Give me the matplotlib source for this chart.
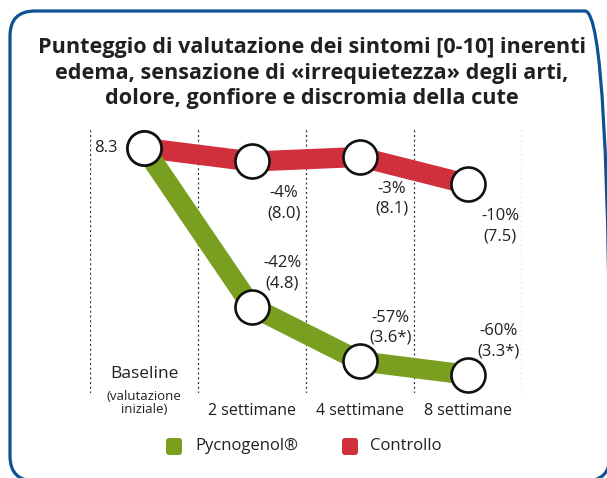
import matplotlib
matplotlib.use("Agg")
import matplotlib.pyplot as plt
from matplotlib.patches import FancyBboxPatch
from matplotlib.transforms import IdentityTransform

# data
categories = ["Baseline", "2 settimane", "4 settimane", "8 settimane"]
pycnogenol = [8.3, 4.8, 3.6, 3.3]
controllo = [8.3, 8.0, 8.1, 7.5]
pyc_labels = ["", "-42%\n(4.8)", "-57%\n(3.6*)", "-60%\n(3.3*)"]
ctrl_labels = ["", "-4%\n(8.0)", "-3%\n(8.1)", "-10%\n(7.5)"]

GREEN = "#789f1f"
RED = "#d22f3d"
BLUE = "#0b5394"
TXT = "#231f20"
W, H = 607, 478

plt.rcParams["font.family"] = ["Open Sans", "DejaVu Sans"]

fig = plt.figure(figsize=(W / 100, H / 100), dpi=100)
fig.patch.set_facecolor("white")

# rounded frame, pixel coords (origin bottom-left)
frame = FancyBboxPatch((10, H - 481), 600, 470,
                       boxstyle="round,pad=0,rounding_size=25",
                       transform=IdentityTransform(), fc="none", ec=BLUE, lw=2.3)
fig.patches.append(frame)

fig.text(312 / W, 1 - 73 / H,
         "Punteggio di valutazione dei sintomi [0-10] inerenti\n"
         "edema, sensazione di «irrequietezza» degli arti,\n"
         "dolore, gonfiore e discromia della cute",
         ha="center", va="center", fontsize=15.6, fontweight="bold",
         color=TXT, linespacing=1.3)

ax = fig.add_axes([90 / W, 1 - 393 / H, 432 / W, 266 / H])
ax.set_xlim(-0.5, 3.5)
ax.set_ylim(2.9, 8.76)
ax.axis("off")

for xv in [-0.5, 0.5, 1.5, 2.5, 3.5]:
    ax.axvline(xv, color="#333333", lw=0.9, ls=(0, (1.6, 2.2)), zorder=1)

x = list(range(len(categories)))
ax.plot(x, controllo, color=RED, lw=14.5, solid_joinstyle="round", zorder=2, clip_on=False)
ax.plot(x, pycnogenol, color=GREEN, lw=14.5, solid_joinstyle="round", zorder=3, clip_on=False)
ax.plot(x, controllo, ls="none", marker="o", ms=24.5, mfc="white", mec="#111111", mew=1.9,
        zorder=4, clip_on=False)
ax.plot(x, pycnogenol, ls="none", marker="o", ms=24.5, mfc="white", mec="#111111", mew=1.9,
        zorder=4, clip_on=False)

fs = 12
ax.annotate(f"{pycnogenol[0]:.1f}", (0, pycnogenol[0]), xytext=(-19, 0),
            textcoords="offset points", ha="right", va="center", fontsize=fs, color=TXT)
for i in range(1, 4):
    ax.annotate(ctrl_labels[i], (i, controllo[i]), xytext=(23, -17),
                textcoords="offset points", ha="center", va="top", fontsize=fs,
                color=TXT, linespacing=1.35)
    ax.annotate(pyc_labels[i], (i, pycnogenol[i]), xytext=(22, 11),
                textcoords="offset points", ha="center", va="bottom", fontsize=fs,
                color=TXT, linespacing=1.35)

# category labels
trans = ax.get_xaxis_transform()
ax.text(0, 1 - (374 - 127) / 266, categories[0], transform=trans, ha="center",
        va="center", fontsize=12.5, color=TXT)
ax.text(0, 1 - (403 - 127) / 266, "(valutazione\niniziale)", transform=trans,
        ha="center", va="center", fontsize=9.5, color=TXT, linespacing=1.0)
for i in range(1, 4):
    ax.text(i, 1 - (411 - 127) / 266, categories[i], transform=trans, ha="center",
            va="center", fontsize=11.5, color=TXT)

# legend
for (x0, tx, col, lab) in [(166, 195, GREEN, "Pycnogenol®"), (342, 370, RED, "Controllo")]:
    sq = FancyBboxPatch((x0, H - 455), 16, 17, boxstyle="round,pad=0,rounding_size=3",
                        transform=IdentityTransform(), fc=col, ec="none")
    fig.patches.append(sq)
    fig.text(tx / W, 1 - 446 / H, lab, ha="left", va="center", fontsize=fs, color=TXT)

fig.savefig("out.png", dpi=100)
